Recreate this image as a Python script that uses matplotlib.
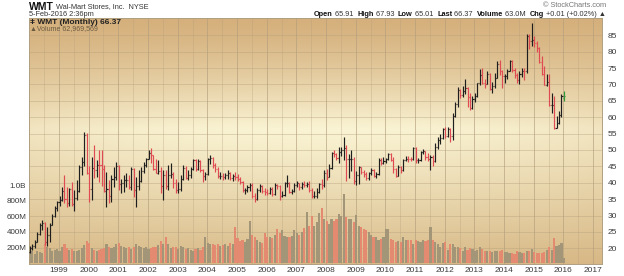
import numpy as np
import matplotlib
matplotlib.use('Agg')
import matplotlib.pyplot as plt
import matplotlib.transforms as mtransforms

plt.rcParams['font.family'] = ['Liberation Sans', 'DejaVu Sans']

# monthly bars, Jan 1998 .. Feb 2016 (dividend adjusted)
opens = [
	18.0, 19.0, 20.0, 20.6, 22.0, 24.4, 27.0, 27.8, 21.8, 24.2, 27.2, 30.0,
	32.2, 34.0, 34.8, 37.5, 35.0, 33.7, 38.1, 33.4, 35.2, 37.6, 44.8, 46.2,
	54.6, 43.0, 38.2, 44.6, 43.8, 45.5, 45.4, 44.2, 37.4, 38.0, 35.9, 41.2,
	41.9, 45.0, 39.5, 39.9, 40.8, 40.9, 38.6, 44.2, 37.9, 39.1, 40.6, 43.6,
	45.5, 47.4, 49.0, 48.4, 44.2, 43.1, 43.5, 38.9, 42.3, 38.9, 42.3, 42.7,
	39.9, 37.8, 38.0, 41.1, 44.5, 41.6, 42.4, 44.2, 46.8, 44.2, 46.5, 44.0,
	42.0, 42.8, 47.4, 47.5, 45.3, 44.2, 42.0, 42.1, 41.9, 42.3, 42.9, 41.4,
	42.0, 41.9, 41.3, 40.1, 37.7, 37.8, 38.6, 39.4, 36.0, 35.0, 37.8, 38.9,
	37.4, 37.3, 36.8, 38.2, 36.5, 39.3, 39.0, 36.0, 36.2, 39.9, 39.9, 37.3,
	37.4, 39.4, 39.8, 38.7, 39.5, 39.3, 39.7, 37.9, 36.0, 36.1, 37.3, 39.5,
	39.2, 43.0, 41.9, 44.5, 49.0, 48.8, 47.5, 49.5, 50.0, 50.6, 47.2, 47.2,
	47.4, 40.5, 42.3, 44.8, 43.3, 42.7, 41.6, 42.9, 43.8, 42.2, 42.7, 47.0,
	46.0, 46.7, 47.3, 48.7, 46.9, 44.3, 42.1, 44.8, 43.8, 46.8, 47.4, 47.3,
	47.2, 50.5, 46.8, 46.9, 49.5, 49.7, 47.8, 47.4, 47.9, 46.7, 51.0, 53.0,
	53.8, 56.5, 54.4, 56.3, 54.2, 60.5, 64.1, 68.4, 66.8, 67.9, 69.0, 66.2,
	62.7, 65.7, 66.6, 70.3, 73.0, 70.3, 70.0, 73.2, 68.6, 69.6, 72.1, 76.1,
	74.0, 72.5, 72.5, 74.1, 77.3, 74.5, 72.8, 71.4, 73.2, 74.2, 74.0, 84.9,
	83.3, 83.7, 82.6, 81.1, 76.9, 73.2, 69.8, 70.9, 63.7, 63.8, 56.6, 58.3,
	60.8, 65.91]
highs = [
	19.6, 20.8, 21.3, 22.6, 25.0, 27.6, 28.6, 28.0, 26.5, 27.8, 30.6, 32.9,
	34.4, 35.9, 38.8, 42.4, 38.8, 38.4, 40.3, 37.8, 40.8, 45.3, 48.0, 55.6,
	55.2, 45.0, 48.0, 51.5, 47.0, 50.0, 50.0, 45.5, 43.4, 40.8, 42.4, 44.9,
	46.4, 45.4, 41.3, 42.4, 42.9, 42.4, 44.9, 44.5, 41.9, 43.9, 44.9, 46.4,
	47.6, 50.0, 50.5, 48.6, 47.4, 46.9, 44.9, 43.9, 43.9, 45.4, 45.9, 43.2,
	41.3, 40.2, 42.4, 45.4, 45.0, 43.8, 44.9, 47.4, 47.2, 47.4, 46.9, 44.2,
	43.3, 47.6, 48.5, 47.9, 45.9, 44.8, 43.2, 43.0, 43.1, 43.9, 43.4, 42.7,
	43.4, 42.6, 41.9, 40.6, 38.5, 39.3, 40.0, 39.8, 36.9, 38.3, 39.6, 39.3,
	38.4, 38.0, 38.6, 38.6, 39.8, 39.6, 39.4, 37.4, 40.2, 42.3, 40.3, 38.0,
	39.8, 40.5, 40.0, 40.1, 40.4, 40.2, 40.6, 38.4, 37.6, 38.5, 40.0, 41.0,
	43.8, 44.2, 45.6, 49.5, 50.1, 49.2, 50.9, 51.0, 54.0, 51.4, 48.7, 50.0,
	47.8, 43.5, 45.1, 44.9, 43.8, 43.4, 43.4, 44.5, 44.2, 43.4, 47.6, 47.5,
	47.9, 47.6, 49.0, 49.0, 47.8, 44.6, 45.3, 45.0, 47.3, 48.3, 48.2, 48.0,
	51.0, 50.8, 47.5, 49.8, 50.2, 49.8, 49.2, 48.6, 48.5, 52.0, 54.0, 55.0,
	56.8, 56.9, 57.0, 56.6, 61.2, 64.5, 69.3, 68.6, 69.5, 71.6, 69.3, 67.5,
	66.5, 67.5, 70.5, 74.6, 75.1, 71.8, 74.1, 73.5, 70.8, 73.6, 77.2, 77.5,
	74.5, 73.3, 74.8, 77.6, 77.4, 75.0, 73.6, 74.0, 75.0, 74.9, 85.4, 85.5,
	88.9, 84.8, 83.3, 81.3, 78.7, 75.6, 73.1, 73.1, 67.5, 66.5, 60.4, 62.0,
	67.2, 67.93]
lows = [
	16.4, 18.6, 19.4, 20.2, 21.8, 24.0, 25.6, 21.0, 20.8, 22.0, 27.0, 29.5,
	31.3, 32.8, 34.3, 33.8, 32.7, 32.8, 32.8, 31.3, 34.7, 37.2, 42.4, 45.0,
	42.6, 34.0, 34.7, 41.4, 41.9, 40.3, 38.9, 37.2, 32.7, 33.7, 34.2, 38.8,
	40.8, 37.8, 36.8, 37.3, 38.8, 38.0, 37.8, 35.8, 32.7, 37.8, 40.3, 42.9,
	44.9, 47.2, 45.9, 43.9, 42.9, 42.6, 36.8, 34.7, 38.2, 37.9, 41.4, 38.3,
	36.8, 36.9, 37.4, 40.8, 41.1, 40.9, 41.6, 43.9, 43.6, 43.8, 43.4, 40.3,
	40.8, 42.5, 45.8, 44.4, 43.3, 41.6, 41.2, 40.9, 41.1, 41.0, 40.9, 40.6,
	40.8, 40.6, 39.5, 37.2, 36.6, 37.1, 37.5, 35.4, 34.2, 34.6, 37.1, 36.9,
	36.4, 36.3, 36.6, 36.0, 36.2, 38.0, 34.8, 35.6, 35.9, 38.6, 36.8, 36.6,
	37.1, 38.6, 37.7, 38.2, 38.6, 38.8, 37.3, 35.5, 35.3, 35.4, 37.0, 38.1,
	38.6, 40.8, 41.7, 44.3, 48.0, 46.8, 46.1, 48.2, 47.0, 40.6, 41.6, 43.6,
	39.5, 39.3, 39.5, 42.6, 41.8, 40.8, 40.7, 42.3, 41.7, 41.6, 42.5, 45.3,
	45.6, 45.9, 46.8, 46.5, 42.9, 41.9, 42.2, 43.0, 43.6, 46.5, 46.3, 46.6,
	46.9, 46.1, 45.9, 46.7, 48.8, 47.0, 46.7, 43.9, 45.0, 46.3, 50.4, 51.9,
	53.5, 53.7, 54.1, 52.5, 53.0, 60.2, 63.2, 66.0, 66.2, 67.0, 63.0, 62.2,
	62.4, 64.5, 66.3, 69.8, 70.0, 68.9, 70.0, 68.3, 67.3, 69.0, 72.0, 73.0,
	69.0, 70.5, 71.8, 74.2, 73.8, 72.1, 70.5, 70.2, 72.2, 71.3, 73.5, 80.8,
	81.7, 81.5, 80.0, 76.6, 73.0, 69.7, 69.4, 63.4, 61.4, 56.3, 56.6, 58.0,
	60.2, 65.01]
closes = [
	19.0, 20.0, 20.6, 22.0, 24.4, 27.0, 27.8, 21.8, 24.2, 27.2, 30.0, 32.2,
	34.0, 34.8, 37.5, 35.0, 33.7, 38.1, 33.4, 35.2, 37.6, 44.8, 46.2, 54.6,
	43.0, 38.2, 44.6, 43.8, 45.5, 45.4, 44.2, 37.4, 38.0, 35.9, 41.2, 41.9,
	45.0, 39.5, 39.9, 40.8, 40.9, 38.6, 44.2, 37.9, 39.1, 40.6, 43.6, 45.5,
	47.4, 49.0, 48.4, 44.2, 43.1, 43.5, 38.9, 42.3, 38.9, 42.3, 42.7, 39.9,
	37.8, 38.0, 41.1, 44.5, 41.6, 42.4, 44.2, 46.8, 44.2, 46.5, 44.0, 42.0,
	42.8, 47.4, 47.5, 45.3, 44.2, 42.0, 42.1, 41.9, 42.3, 42.9, 41.4, 42.0,
	41.9, 41.3, 40.1, 37.7, 37.8, 38.6, 39.4, 36.0, 35.0, 37.8, 38.9, 37.4,
	37.3, 36.8, 38.2, 36.5, 39.3, 39.0, 36.0, 36.2, 39.9, 39.9, 37.3, 37.4,
	39.4, 39.8, 38.7, 39.5, 39.3, 39.7, 37.9, 36.0, 36.1, 37.3, 39.5, 39.2,
	43.0, 41.9, 44.5, 49.0, 48.8, 47.5, 49.5, 50.0, 50.6, 47.2, 47.2, 47.4,
	40.5, 42.3, 44.8, 43.3, 42.7, 41.6, 42.9, 43.8, 42.2, 42.7, 47.0, 46.0,
	46.7, 47.3, 48.7, 46.9, 44.3, 42.1, 44.8, 43.8, 46.8, 47.4, 47.3, 47.2,
	50.5, 46.8, 46.9, 49.5, 49.7, 47.8, 47.4, 47.9, 46.7, 51.0, 53.0, 53.8,
	56.5, 54.4, 56.3, 54.2, 60.5, 64.1, 68.4, 66.8, 67.9, 69.0, 66.2, 62.7,
	65.7, 66.6, 70.3, 73.0, 70.3, 70.0, 73.2, 68.6, 69.6, 72.1, 76.1, 74.0,
	72.5, 72.5, 74.1, 77.3, 74.5, 72.8, 71.4, 73.2, 74.2, 74.0, 84.9, 83.3,
	83.7, 82.6, 81.1, 76.9, 73.2, 69.8, 70.9, 63.7, 63.8, 56.6, 58.3, 60.8,
	66.36, 66.37]
# volume in millions of shares
volumes = [
	110, 130, 160, 120, 150, 140, 130, 240, 200, 190, 150, 170,
	180, 160, 200, 250, 190, 170, 180, 160, 150, 170, 190, 230,
	280, 260, 190, 170, 160, 170, 180, 190, 250, 200, 190, 200,
	240, 260, 220, 200, 190, 210, 180, 200, 240, 220, 200, 190,
	200, 180, 190, 210, 200, 230, 280, 250, 330, 240, 190, 200,
	210, 180, 220, 200, 180, 190, 170, 160, 180, 190, 170, 200,
	330, 260, 250, 240, 230, 250, 220, 230, 240, 220, 260, 240,
	460, 320, 280, 300, 270, 310, 540, 360, 330, 300, 270, 260,
	380, 330, 340, 320, 360, 440, 380, 430, 350, 340, 330, 350,
	420, 380, 360, 400, 450, 650, 480, 600, 470, 520, 640, 710,
	560, 540, 500, 570, 540, 570, 630, 600, 880, 590, 560, 560,
	520, 610, 480, 460, 440, 420, 400, 360, 340, 330, 290, 310,
	330, 440, 440, 310, 300, 270, 280, 270, 330, 300, 300, 290,
	250, 290, 280, 270, 300, 280, 290, 460, 300, 270, 250, 210,
	260, 270, 170, 240, 250, 200, 210, 190, 160, 200, 170, 190,
	180, 160, 170, 200, 180, 160, 150, 150, 140, 150, 160, 150,
	170, 140, 140, 130, 130, 120, 150, 140, 130, 130, 160, 150,
	180, 140, 130, 130, 130, 140, 170, 200, 170, 320, 220, 230,
	255, 63]

price_ticks = [20, 25, 30, 35, 40, 45, 50, 55, 60, 65, 70, 75, 80, 85]
vol_ticks = [200, 400, 600, 800, 1000]
vol_labels = ['200M', '400M', '600M', '800M', '1.0B']
year_ticks = list(range(1999, 2018))

n = len(closes)
xs = np.array([1998 + i / 12.0 for i in range(n)]) - 0.065
up = [closes[i] >= opens[i] for i in range(n)]

pcol = ['#1e1e1e' if u else '#e04a52' for u in up]
pcol[-1] = '#2f9a3a'
vcol = ['#a39577' if u else '#e38a70' for u in up]

W, H = 624, 276
fig = plt.figure(figsize=(W / 100, H / 100), dpi=100)
rect = [29 / W, 12 / H, 573 / W, 246 / H]

axv = fig.add_axes(rect)
ax = fig.add_axes(rect, sharex=axv)
ax.patch.set_visible(False)

# background gradient
t = np.linspace(0, 1, 200)[:, None]
xg = np.linspace(0, 1, 300)[None, :]
top = np.array([213, 176, 124]) / 255.
mid = np.array([250, 244, 212]) / 255.
bot = np.array([216, 186, 136]) / 255.
a = np.clip(t / 0.45, 0, 1)[..., None]
b = np.clip((t - 0.45) / 0.55, 0, 1)[..., None]
a = a ** 1.3
vert = np.where(t[..., None] < 0.45, top + (mid - top) * a, mid + (bot - mid) * b ** 1.1)
edge = (0.22 * (2 * xg - 1) ** 2)[..., None]
img = vert * (1 - edge) + top * edge
img = np.broadcast_to(img, (200, 300, 3))
axv.imshow(img, extent=[0, 1, 0, 1], transform=axv.transAxes, aspect='auto',
		   zorder=0, interpolation='bilinear')

# grid
gcol = '#b39e7c'
blend = mtransforms.blended_transform_factory(axv.transAxes, ax.transData)
for p in price_ticks:
	axv.plot([0, 1], [p, p], transform=blend, color=gcol, lw=0.5, alpha=0.55, zorder=1)
for yr in range(1998, 2018):
	axv.axvline(yr, color=gcol, lw=0.6, alpha=0.75, zorder=1)
	axv.axvline(yr + 0.5, color=gcol, lw=0.5, alpha=0.45, zorder=1)

# volume
axv.bar(xs, volumes, width=0.072, color=vcol, zorder=2, linewidth=0)

# price bars
tw = 0.036
ax.vlines(xs, lows, highs, colors=pcol, lw=0.85, zorder=3)
ax.hlines(opens, xs - tw, xs, colors=pcol, lw=0.85, zorder=3)
ax.hlines(closes, xs, xs + tw, colors=pcol, lw=0.85, zorder=3)

axv.set_xlim(1997.99, 2017.30)
axv.set_ylim(-12, 3140)
ax.set_ylim(15.21, 90.28)

ax.yaxis.tick_right()
ax.set_yticks(price_ticks)
ax.set_yticklabels([str(p) for p in price_ticks])
ax.tick_params(axis='y', length=0, pad=4, labelsize=6, labelcolor='#3a3a3a')
ax.tick_params(axis='x', bottom=False, labelbottom=False)

axv.set_yticks(vol_ticks)
axv.set_yticklabels(vol_labels)
axv.tick_params(axis='y', length=0, pad=2, labelsize=5.8, labelcolor='#3a3a3a')
axv.set_xticks(year_ticks)
axv.set_xticklabels([str(y) for y in year_ticks])
axv.tick_params(axis='x', length=0, pad=2, labelsize=6, labelcolor='#3a3a3a')

for a_ in (ax, axv):
	for s in a_.spines.values():
		s.set_color('#b0a080')
		s.set_linewidth(0.6)

# header texts
def fx(px):
	return px / W

def fy(py):
	return 1 - py / H

fig.canvas.draw()
r = fig.canvas.get_renderer()

def row(pieces, x0, y0, right=False):
	txts = []
	for s, kw in pieces:
		txts.append(fig.text(0, fy(y0), s, va='center', ha='left', **kw))
	widths = [tt.get_window_extent(r).width for tt in txts]
	xc = x0 - sum(widths) if right else x0
	for tt, w in zip(txts, widths):
		tt.set_x(fx(xc))
		xc += w

row([('WMT', dict(fontsize=7.5, weight='bold', color='#111')),
	 (' Wal-Mart Stores, Inc.  NYSE', dict(fontsize=5.3, color='#333'))], 29, 6.5)
fig.text(fx(29), fy(14.5), '5-Feb-2016 2:36pm', fontsize=5.3, color='#333', va='center')
fig.text(fx(606), fy(5.5), '\u00a9 StockCharts.com', fontsize=5.3, color='#777',
		 va='center', ha='right')
bk = dict(fontsize=5.3, weight='bold', color='#111')
nk = dict(fontsize=5.3, color='#333')
row([('Open', bk), (' 65.91  ', nk), ('High', bk), (' 67.93  ', nk),
	 ('Low', bk), (' 65.01  ', nk), ('Last', bk), (' 66.37  ', nk),
	 ('Volume', bk), (' 63.0M  ', nk), ('Chg', bk), (' +0.01 (+0.02%) \u25b2', nk)],
	606, 14.5, right=True)

fig.text(fx(30), fy(22.5), '\u01c2 WMT (Monthly) 66.37', fontsize=6, weight='bold',
		 color='#222', va='center')
fig.text(fx(30), fy(29), '\u25b2Volume 62,969,569', fontsize=5, color='#6a5a40', va='center')

fig.savefig('out.png', dpi=100)
